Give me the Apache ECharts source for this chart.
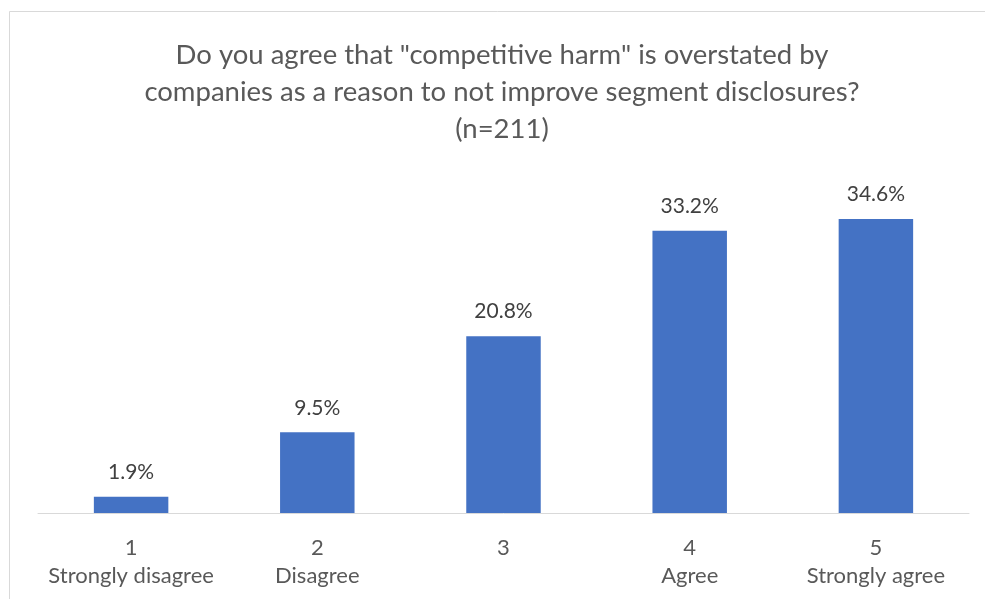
<!DOCTYPE html>
<html>
<head>
<meta charset="utf-8">
<script src="https://cdn.jsdelivr.net/npm/echarts@6/dist/echarts.min.js"></script>
<style>
  html, body { margin: 0; padding: 0; background: #ffffff; }
  #chart { width: 985px; height: 599px; }
</style>
</head>
<body>
<div id="chart"></div>
<script>
// Survey responses on a 1–5 agreement scale
const scalePoints = ['1', '2', '3', '4', '5'];
const scaleNames = ['Strongly disagree', 'Disagree', '', 'Agree', 'Strongly agree'];
const sharePercent = [1.9, 9.5, 20.8, 33.2, 34.6];

const titleText = 'Do you agree that "competitive harm" is overstated by\ncompanies as a reason to not improve segment disclosures?\n(n=211)';

const categories = scalePoints.map((p, i) => p + '\n' + scaleNames[i]);

const FONT = 'Lato, "Liberation Sans", sans-serif';

const chart = echarts.init(document.getElementById('chart'), null, { renderer: 'canvas' });

chart.setOption({
  animation: false,
  backgroundColor: '#ffffff',
  textStyle: { fontFamily: FONT },
  graphic: [
    {
      // light frame around the chart area
      type: 'rect',
      shape: { x: 9.5, y: 11.5, width: 1000, height: 1000 },
      style: { fill: 'none', stroke: '#d9d9d9', lineWidth: 1 },
      silent: true,
      z: -1
    },
    {
      // chart heading, centred over the frame
      type: 'text',
      x: 502,
      y: 37,
      silent: true,
      style: {
        text: titleText,
        align: 'center',
        verticalAlign: 'top',
        font: 'normal 27.5px ' + FONT,
        fill: '#595959',
        lineHeight: 37
      }
    }
  ],
  grid: { left: 38, right: 16, top: 173, bottom: 86, containLabel: false },
  xAxis: {
    type: 'category',
    data: categories,
    axisLine: { show: true, lineStyle: { color: '#d9d9d9', width: 1 } },
    axisTick: { show: false },
    axisLabel: {
      margin: 21,
      interval: 0,
      fontFamily: FONT,
      fontSize: 22,
      color: '#595959',
      lineHeight: 28
    }
  },
  yAxis: {
    type: 'value',
    min: 0,
    max: 40,
    interval: 5,
    show: false,
    splitLine: { show: false }
  },
  series: [
    {
      type: 'bar',
      data: sharePercent,
      barWidth: '40%',
      itemStyle: { color: '#4472C4' },
      label: {
        show: true,
        position: 'top',
        distance: 14,
        fontFamily: FONT,
        fontSize: 21,
        color: '#404040',
        formatter: (p) => p.value.toFixed(1) + '%'
      }
    }
  ]
});
</script>
</body>
</html>
